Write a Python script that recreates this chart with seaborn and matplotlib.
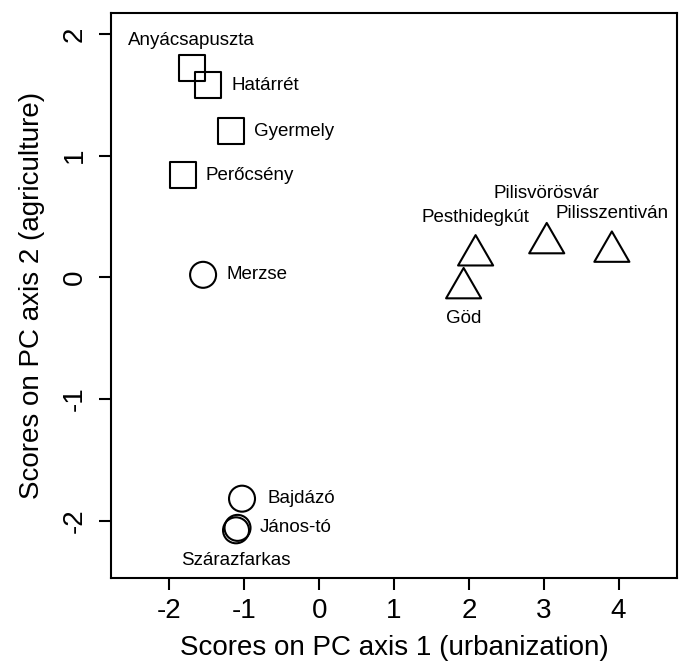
import matplotlib
matplotlib.use("Agg")
import matplotlib.pyplot as plt
import pandas as pd
import seaborn as sns
from matplotlib.path import Path

# Site scores on the first two PC axes
sites = ["Anyácsapuszta", "Határrét", "Gyermely", "Perőcsény", "Merzse",
         "Bajdázó", "János-tó", "Szárazfarkas",
         "Pesthidegkút", "Göd", "Pilisvörösvár", "Pilisszentiván"]
pc1 = [-1.70, -1.48, -1.18, -1.82, -1.55, -1.03, -1.09, -1.11,
       2.09, 1.93, 3.04, 3.91]
pc2 = [1.72, 1.58, 1.20, 0.84, 0.02, -1.82, -2.06, -2.08,
       0.18, -0.09, 0.28, 0.21]
site_type = ["rural"] * 4 + ["suburban"] * 4 + ["urban"] * 4

x_ticks = [-2, -1, 0, 1, 2, 3, 4]
y_ticks = [-2, -1, 0, 1, 2]

df = pd.DataFrame({"site": sites, "pc1": pc1, "pc2": pc2, "type": site_type})

# label placement (ha, dx, dy) in pixels, like R's text(pos=...)
label_layout = {
    "Anyácsapuszta": ("center", 0, 27),
    "Határrét": ("left", 23, 0),
    "Gyermely": ("left", 23, 0),
    "Perőcsény": ("left", 23, 0),
    "Merzse": ("left", 23, 0),
    "Bajdázó": ("left", 25, 0),
    "János-tó": ("left", 22, 0),
    "Szárazfarkas": ("center", 0, -30),
    "Pesthidegkút": ("center", 0, 38),
    "Göd": ("center", 0, -30),
    "Pilisvörösvár": ("center", 0, 50),
    "Pilisszentiván": ("center", 0, 38),
}

# open equilateral triangle like R pch = 2
triangle = Path([(-1, -0.5774), (1, -0.5774), (0, 1.1547), (-1, -0.5774)],
                closed=True)
marker_style = {
    "rural": ("s", 350),
    "suburban": ("o", 350),
    "urban": (triangle, 850),
}

sns.set_style("ticks")
plt.rcParams["font.family"] = ["Liberation Sans", "DejaVu Sans"]
plt.rcParams["text.color"] = "black"
plt.rcParams["axes.labelcolor"] = "black"
plt.rcParams["xtick.color"] = "black"
plt.rcParams["ytick.color"] = "black"

fig = plt.figure(figsize=(6.81, 6.67), dpi=100)
ax = fig.add_axes([111 / 681, 89 / 667, 566 / 681, 565 / 667])

for kind, grp in df.groupby("type"):
    marker, size = marker_style[kind]
    sns.scatterplot(
        data=grp, x="pc1", y="pc2", ax=ax,
        marker=marker, s=size,
        facecolors="none", edgecolor="black", linewidth=1.5,
        legend=False
    )

for _, row in df.iterrows():
    ha, dx, dy = label_layout[row["site"]]
    ax.annotate(
        row["site"], (row["pc1"], row["pc2"]),
        xytext=(dx, dy), textcoords="offset pixels",
        ha=ha, va="center", fontsize=13.5, color="black"
    )

ax.set_xlim(-2.78, 4.78)
ax.set_ylim(-2.472, 2.172)
ax.set_xticks(x_ticks)
ax.set_yticks(y_ticks)
ax.set_xticklabels([str(t) for t in x_ticks])
ax.set_yticklabels([str(t) for t in y_ticks], rotation=90, va="center")

for side in ["top", "bottom", "left", "right"]:
    ax.spines[side].set_visible(True)
    ax.spines[side].set_linewidth(1.5)
    ax.spines[side].set_color("black")

ax.tick_params(axis="both", length=8.5, width=1.5, color="black",
               labelsize=20, labelcolor="black")
ax.tick_params(axis="x", pad=6)
ax.tick_params(axis="y", pad=8)

ax.set_xlabel("Scores on PC axis 1 (urbanization)", fontsize=20, labelpad=8)
ax.set_ylabel("Scores on PC axis 2 (agriculture)", fontsize=20, labelpad=12)

fig.savefig("out.png", dpi=100)
